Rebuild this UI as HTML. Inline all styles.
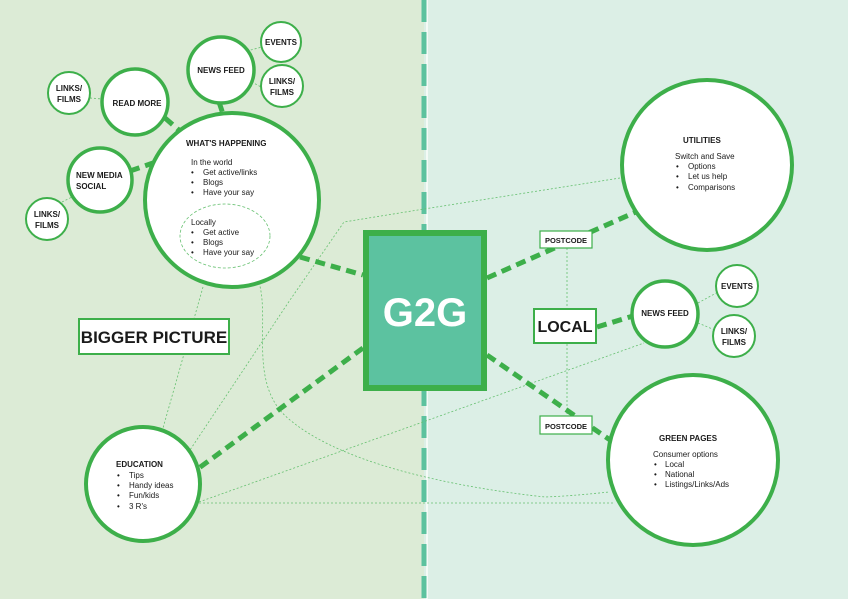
<!DOCTYPE html>
<html><head><meta charset="utf-8"><style>
html,body{margin:0;padding:0;width:848px;height:599px;overflow:hidden}
svg text{font-family:"Liberation Sans",sans-serif;fill:#1a1a1a}
.b{font-weight:bold;font-size:8px}
.s{font-size:8px}
</style></head><body>
<svg width="848" height="599" viewBox="0 0 848 599" xmlns="http://www.w3.org/2000/svg">
<rect x="0" y="0" width="424" height="599" fill="#dcebd6"/>
<rect x="424" y="0" width="424" height="599" fill="#dcefe6"/>
<line x1="427" y1="0" x2="427" y2="599" stroke="#f4faf6" stroke-width="2"/>
<line x1="424" y1="0" x2="424" y2="599" stroke="#5cc29e" stroke-width="5" stroke-dasharray="22,10"/>

<g stroke="#66c070" stroke-width="0.8" fill="none" stroke-dasharray="2,2">
<line x1="243" y1="52" x2="262" y2="47"/>
<line x1="248" y1="80" x2="263" y2="88"/>
<line x1="90" y1="98" x2="102" y2="99"/>
<line x1="62" y1="202" x2="72" y2="197"/>
<line x1="698" y1="303" x2="718" y2="292"/>
<line x1="698" y1="323" x2="715" y2="330"/>
<polyline points="620,178 424,209 344,222 290,300 190,450"/>
<line x1="203" y1="287" x2="163" y2="428"/>
<path d="M250,265 C280,300 240,380 290,420 C350,470 480,490 545,497 C570,496 590,494 609,492"/>
<line x1="199" y1="502" x2="644" y2="343"/>
<line x1="199" y1="503" x2="614" y2="503"/>
<line x1="567" y1="248" x2="567" y2="416"/>
</g>

<g stroke="#3daf4a" stroke-width="5" fill="none" stroke-dasharray="10,6">
<line x1="300" y1="257" x2="363" y2="275"/>
<line x1="165" y1="118" x2="180" y2="131"/>
<line x1="219" y1="102" x2="223" y2="114"/>
<line x1="130" y1="171" x2="153" y2="163"/>
<line x1="487" y1="278" x2="638" y2="211"/>
<line x1="487" y1="355" x2="610" y2="440"/>
<line x1="363" y1="348" x2="199" y2="468"/>
<line x1="597" y1="327" x2="633" y2="316"/>
</g>

<rect x="366" y="233" width="118" height="155" fill="#5cc2a0" stroke="#3daf4a" stroke-width="6"/>
<text x="425" y="326" text-anchor="middle" style="font-weight:bold;font-size:40px;fill:#fff">G2G</text>

<g fill="#fff" stroke="#3daf4a">
<circle cx="232" cy="200" r="87" stroke-width="4"/>
<circle cx="221" cy="70" r="33" stroke-width="3.5"/>
<circle cx="281" cy="42" r="20" stroke-width="2"/>
<circle cx="282" cy="86" r="21" stroke-width="2"/>
<circle cx="135" cy="102" r="33" stroke-width="3.5"/>
<circle cx="69" cy="93" r="21" stroke-width="2"/>
<circle cx="100" cy="180" r="32" stroke-width="3.5"/>
<circle cx="47" cy="219" r="21" stroke-width="2"/>
<circle cx="707" cy="165" r="85" stroke-width="4"/>
<circle cx="665" cy="314" r="33" stroke-width="3.5"/>
<circle cx="737" cy="286" r="21" stroke-width="2"/>
<circle cx="734" cy="336" r="21" stroke-width="2"/>
<circle cx="693" cy="460" r="85" stroke-width="4"/>
<circle cx="143" cy="484" r="57" stroke-width="4"/>
<rect x="79" y="319" width="150" height="35" stroke-width="2"/>
<rect x="534" y="309" width="62" height="34" stroke-width="2"/>
<rect x="540" y="231" width="52" height="17" stroke-width="1.2"/>
<rect x="540" y="416" width="52" height="18" stroke-width="1.2"/>
</g>
<ellipse cx="225" cy="236" rx="45" ry="32" fill="none" stroke="#66c070" stroke-width="0.8" stroke-dasharray="3,2"/>

<g class="b">
<text x="221" y="73" text-anchor="middle">NEWS FEED</text>
<text x="281" y="45" text-anchor="middle">EVENTS</text>
<text x="282" y="84" text-anchor="middle">LINKS/</text><text x="282" y="95" text-anchor="middle">FILMS</text>
<text x="137" y="106" text-anchor="middle">READ MORE</text>
<text x="69" y="91" text-anchor="middle">LINKS/</text><text x="69" y="102" text-anchor="middle">FILMS</text>
<text x="76" y="178">NEW MEDIA</text><text x="76" y="189">SOCIAL</text>
<text x="47" y="217" text-anchor="middle">LINKS/</text><text x="47" y="228" text-anchor="middle">FILMS</text>
<text x="186" y="146">WHAT'S HAPPENING</text>
<text x="683" y="143">UTILITIES</text>
<text x="665" y="316" text-anchor="middle">NEWS FEED</text>
<text x="737" y="289" text-anchor="middle">EVENTS</text>
<text x="734" y="334" text-anchor="middle">LINKS/</text><text x="734" y="345" text-anchor="middle">FILMS</text>
<text x="659" y="441">GREEN PAGES</text>
<text x="116" y="467">EDUCATION</text>
<text x="566" y="243" text-anchor="middle" style="font-size:7.5px">POSTCODE</text>
<text x="566" y="429" text-anchor="middle" style="font-size:7.5px">POSTCODE</text>
</g>
<text x="154" y="343" text-anchor="middle" style="font-weight:bold;font-size:17px">BIGGER PICTURE</text>
<text x="565" y="332" text-anchor="middle" style="font-weight:bold;font-size:16px">LOCAL</text>

<g class="s">
<text x="191" y="165">In the world</text>
<text x="191" y="175">•</text><text x="203" y="175">Get active/links</text>
<text x="191" y="185">•</text><text x="203" y="185">Blogs</text>
<text x="191" y="195">•</text><text x="203" y="195">Have your say</text>
<text x="191" y="225">Locally</text>
<text x="191" y="235">•</text><text x="203" y="235">Get active</text>
<text x="191" y="245">•</text><text x="203" y="245">Blogs</text>
<text x="191" y="255">•</text><text x="203" y="255">Have your say</text>
<text x="675" y="159">Switch and Save</text>
<text x="676" y="169">•</text><text x="688" y="169">Options</text>
<text x="676" y="179">•</text><text x="688" y="179">Let us help</text>
<text x="676" y="190">•</text><text x="688" y="190">Comparisons</text>
<text x="653" y="457">Consumer options</text>
<text x="654" y="467">•</text><text x="665" y="467">Local</text>
<text x="654" y="477">•</text><text x="665" y="477">National</text>
<text x="654" y="487">•</text><text x="665" y="487">Listings/Links/Ads</text>
<text x="117" y="478">•</text><text x="129" y="478">Tips</text>
<text x="117" y="488">•</text><text x="129" y="488">Handy ideas</text>
<text x="117" y="498">•</text><text x="129" y="498">Fun/kids</text>
<text x="117" y="509">•</text><text x="129" y="509">3 R's</text>
</g>
</svg>
</body></html>
